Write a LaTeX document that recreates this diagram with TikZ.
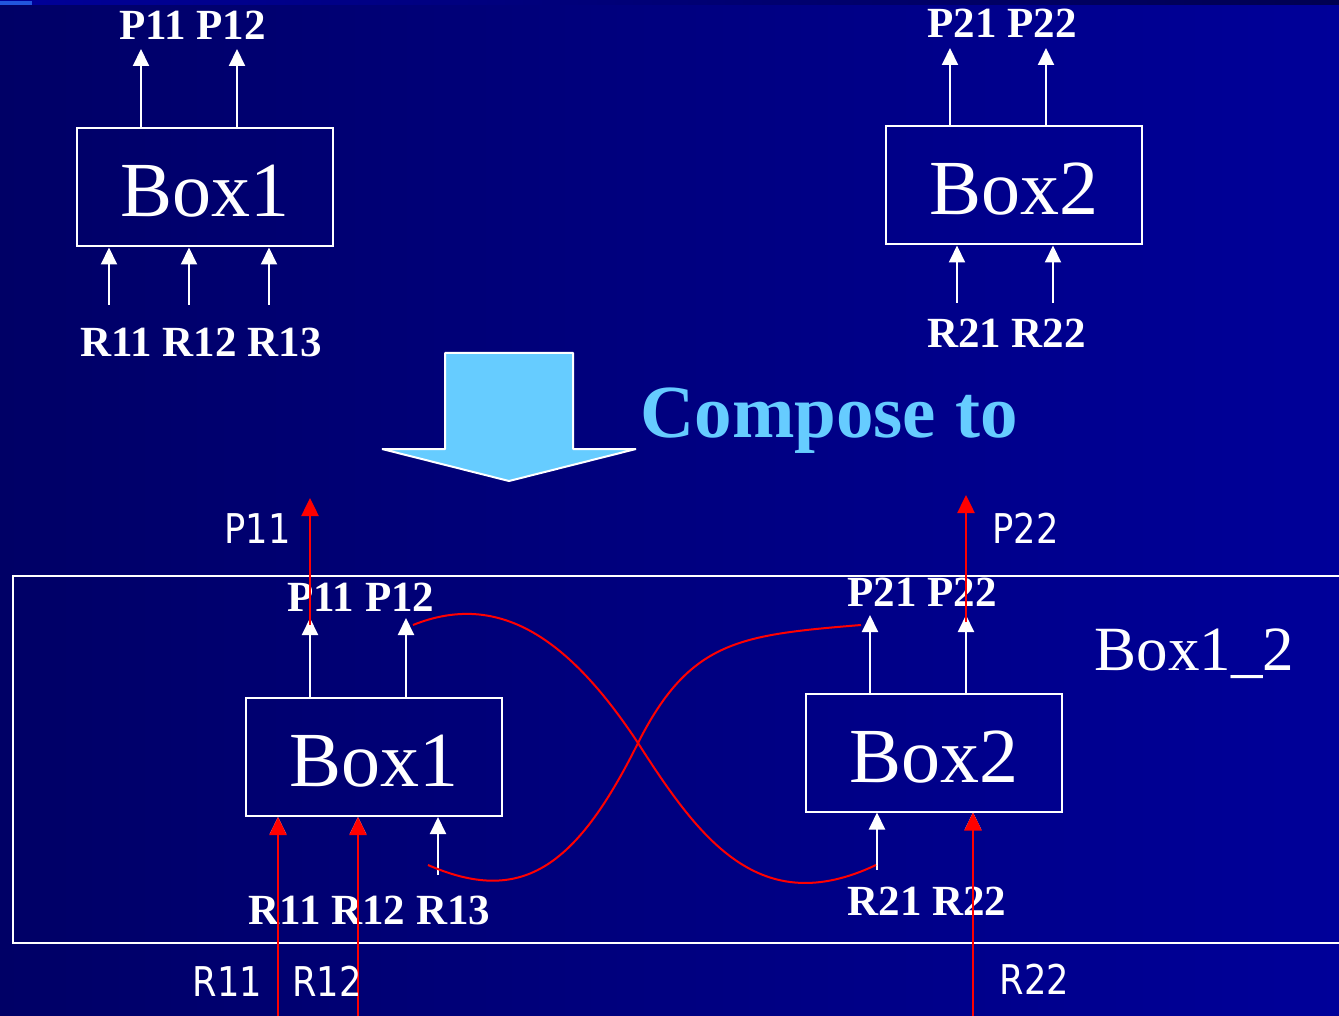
\documentclass[tikz,border=0pt]{standalone}
\usepackage{fontspec}
\setmainfont{Liberation Serif}
\newfontfamily\lblfont[FakeStretch=0.86]{DejaVu Sans}
\usetikzlibrary{arrows.meta, calc}
\definecolor{slideleft}{HTML}{000066}
\definecolor{slideright}{HTML}{000099}
\definecolor{stripdark}{HTML}{000050}
\definecolor{striplight}{HTML}{2255DD}
\definecolor{skyarrow}{HTML}{66CCFF}
\definecolor{wirered}{HTML}{FF0000}
\tikzset{
  boxnode/.style={draw=white, line width=2pt, minimum width=256pt, minimum height=118pt,
                  inner sep=0pt, text=white, text height=59pt, text depth=0pt,
                  font=\fontsize{78}{80}\selectfont},
  portarr/.style={-{Triangle[length=17pt,width=16pt]}, line width=2pt, white},
  wirearr/.style={-{Triangle[length=18pt,width=17pt]}, line width=2.5pt, wirered},
  wire/.style={line width=2pt, wirered},
  portlbl/.style={text=white, anchor=base, inner sep=0pt, font=\fontsize{43}{45}\selectfont\bfseries},
  siglbl/.style={text=white, anchor=base, inner sep=0pt, font=\lblfont\fontsize{41}{43}\selectfont},
}

\begin{document}
\begin{tikzpicture}[x=1pt, y=-1pt]
  \useasboundingbox (0,0) rectangle (1339,1016);
  % slide background
  \fill[left color=slideleft, right color=slideright] (0,0) rectangle (1339,1016);
  \fill[left color=slideright, right color=stripdark] (0,0) rectangle (1339,5);
  \fill[striplight] (0,1) rectangle (32,5);

  % before composing
  \node[boxnode] (b1) at (205,187.5) {Box1};
  \node[boxnode] (b2) at (1014,185.5) {Box2};
  \foreach \x in {141,237} \draw[portarr] (\x,0 |- b1.north) -- (\x,49);
  \foreach \x in {109,189,269} \draw[portarr] (\x,305) -- (\x,0 |- b1.south);
  \foreach \x in {950,1046} \draw[portarr] (\x,0 |- b2.north) -- (\x,48);
  \foreach \x in {957,1053} \draw[portarr] (\x,303) -- (\x,0 |- b2.south);
  \node[portlbl] (b1p) at (192.5,40) {P11 P12};
  \node[portlbl] (b1r) at (201,356) {R11 R12 R13};
  \node[portlbl] (b2p) at (1002,38) {P21 P22};
  \node[portlbl] (b2r) at (1006.5,348) {R21 R22};

  % compose arrow
  \draw[white, line width=2pt, line join=bevel, fill=skyarrow]
    (445,353) -- (573,353) -- (573,449) -- (636,449) -- (509,481) -- (382,449) -- (445,449) -- cycle;
  \node[anchor=base, inner sep=0pt, text=skyarrow, font=\fontsize{75}{77}\selectfont\bfseries]
    (compose) at (829,437) {Compose to};

  % composed box
  \draw[white, line width=2pt] (13,576) rectangle (1360,943);
  \node[anchor=base, inner sep=0pt, text=white, font=\fontsize{63}{65}\selectfont]
    (cboxlbl) at (1194.5,670) {Box1\_2};
  \node[boxnode] (lb1) at (374,757) {Box1};
  \node[boxnode] (lb2) at (934,752.5) {Box2};
  \foreach \x in {310,406} \draw[portarr] (\x,0 |- lb1.north) -- (\x,618);
  \foreach \x in {278,358,438} \draw[portarr] (\x,875) -- (\x,0 |- lb1.south);
  \foreach \x in {870,966} \draw[portarr] (\x,0 |- lb2.north) -- (\x,615);
  \foreach \x in {877,973} \draw[portarr] (\x,870) -- (\x,0 |- lb2.south);
  \node[portlbl] (lb1p) at (361,611) {P11 P12};
  \node[portlbl] (lb1r) at (369.5,924) {R11 R12 R13};
  \node[portlbl] (lb2p) at (922,606) {P21 P22};
  \node[portlbl] (lb2r) at (927,915) {R21 R22};

  % wiring
  \coordinate (p12in) at (413,625);
  \coordinate (r21in) at (876,865);
  \coordinate (r13in) at (428,865);
  \coordinate (p21in) at (861,625);
  \coordinate (cross) at (638,743);
  \draw[wire] (p12in) .. controls (500,590) and (570,640) .. (cross)
                      .. controls (700,840) and (760,920) .. (r21in);
  \draw[wire] (r13in) .. controls (520,905) and (575,870) .. (cross)
                      .. controls (690,640) and (740,635) .. (p21in);
  \draw[wirearr] (310,625) -- (310,498);
  \draw[wirearr] (966,622) -- (966,495);
  \draw[wirearr] (278,1016) -- (278,0 |- lb1.south);
  \draw[wirearr] (358,1016) -- (358,0 |- lb1.south);
  \draw[wirearr] (973,1016) -- (973,0 |- lb2.south);
  \node[siglbl] (outp11) at (257.5,543) {P11};
  \node[siglbl] (outp22) at (1025.5,543) {P22};
  \node[siglbl] (inr11) at (227.5,996) {R11};
  \node[siglbl] (inr12) at (327,996) {R12};
  \node[siglbl] (inr22) at (1034.5,994.5) {R22};
\end{tikzpicture}
\end{document}
